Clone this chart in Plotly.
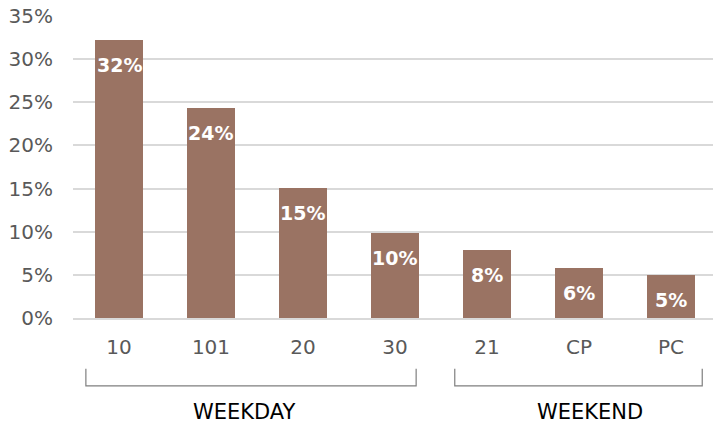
import plotly.graph_objects as go

# data
categories = ['10', '101', '20', '30', '21', 'CP', 'PC']
shares = [32.2, 24.3, 15.1, 9.9, 7.9, 5.8, 5.0]
labels = ['32%', '24%', '15%', '10%', '8%', '6%', '5%']
y_ticks = [0, 5, 10, 15, 20, 25, 30, 35]
y_tick_text = ['0%', '5%', '10%', '15%', '20%', '25%', '30%', '35%']
groups = ['WEEKDAY', 'WEEKEND']
group_spans = [(0, 3), (4, 6)]  # first and last category index in each group

font_name = 'DejaVu Sans'
bar_color = '#9A7363'

fig = go.Figure()

fig.add_trace(go.Bar(
    x=list(range(len(categories))),
    y=shares,
    marker=dict(color=bar_color, line=dict(width=0)),
    width=0.52,
    hoverinfo='skip',
))

# value labels inside the top of each bar
for i, (v, t) in enumerate(zip(shares, labels)):
    fig.add_annotation(
        x=i, y=v, text='<b>' + t + '</b>', showarrow=False,
        yanchor='middle', yshift=-25,
        font=dict(family=font_name, size=19, color='white'),
    )

# group brackets and labels under the category axis
pads = [(-0.36, 0.23), (-0.35, 0.34)]
label_shift = [-0.14, 0.12]
for name, (a, b), (pl, pr), s in zip(groups, group_spans, pads, label_shift):
    x0, x1 = a + pl, b + pr
    fig.add_shape(
        type='path', xref='x', yref='paper',
        path=f'M {x0} -0.168 L {x0} -0.225 L {x1} -0.225 L {x1} -0.168',
        line=dict(color='#7F7F7F', width=1.2),
    )
    fig.add_annotation(
        x=(a + b) / 2 + s, y=-0.31, xref='x', yref='paper',
        text=name, showarrow=False, yanchor='middle',
        font=dict(family=font_name, size=21, color='black'),
    )

fig.update_layout(
    width=713, height=426,
    margin=dict(l=73, r=0, t=16, b=108, autoexpand=False),
    plot_bgcolor='white', paper_bgcolor='white',
    showlegend=False,
    bargap=0,
    font=dict(family=font_name, size=20, color='#595959'),
    xaxis=dict(
        range=[-0.5, 6.457],
        tickmode='array',
        tickvals=list(range(len(categories))),
        ticktext=categories,
        showgrid=False,
        showline=True, linecolor='#D9D9D9', linewidth=1.5,
        ticks='', ticklabelstandoff=10,
        zeroline=False, automargin=False,
    ),
    yaxis=dict(
        range=[0, 35],
        tickmode='array',
        tickvals=y_ticks,
        ticktext=y_tick_text,
        showgrid=True, gridcolor='#D9D9D9', gridwidth=1.5,
        zeroline=False,
        showline=False,
        ticks='', ticklabelstandoff=19,
        automargin=False,
    ),
)

# drop the default page margin so the figure sits at the window's corner
fig.write_html('out.html', config={'displayModeBar': False},
               post_script="document.body.style.margin='0';")
